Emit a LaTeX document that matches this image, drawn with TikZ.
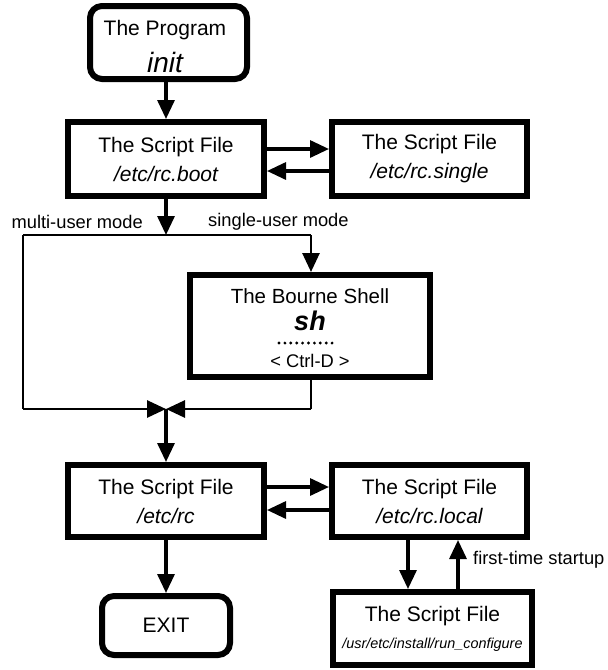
\documentclass[tikz,border=0pt]{standalone}
\usepackage{fontspec}
\setmainfont{Liberation Sans}
\usetikzlibrary{arrows.meta}
\tikzset{
  box/.style={draw, line width=6pt, fill=white, align=center, inner sep=0pt, font=\fontsize{21}{29}\selectfont},
  rbox/.style={box, rounded corners=12pt},
  conn/.style={line width=3.2pt, -{Triangle[length=19pt,width=17pt]}},
  wire/.style={line width=2.8pt},
  lbl/.style={font=\fontsize{18.3}{20}\selectfont, inner sep=0pt},
  intext/.style={inner sep=0pt, anchor=center},
}
\begin{document}
\begin{tikzpicture}[x=1pt,y=-1pt]
\useasboundingbox (0,0) rectangle (608,670);
% boxes
\node[rbox, minimum width=157pt, minimum height=73pt] (init) at (168.5,42.5) {};
\node[intext, font=\fontsize{21}{24}\selectfont] (inittitle) at (165,30) {The Program};
\node[intext, font=\fontsize{28}{30}\selectfont\itshape] (initname) at (165,62) {init};
\node[box, minimum width=196pt, minimum height=74pt] (boot) at (166,159)
  {The Script File\\{\itshape /etc/rc.boot}};
\node[box, minimum width=195pt, minimum height=74pt] (single) at (429.5,159)
  {The Script File\\{\itshape /etc/rc.single}};
\node[box, minimum width=240pt, minimum height=102pt] (sh) at (310,326) {};
\node[intext, font=\fontsize{20.5}{22}\selectfont] (shtitle) at (310,296) {The Bourne Shell};
\node[intext, font=\fontsize{27}{28}\selectfont\bfseries\itshape] (shname) at (310,321) {sh};
\node[intext, font=\fontsize{18.3}{20}\selectfont] (ctrl) at (310,361) {< Ctrl-D >};
\foreach \i in {0,...,9} \fill (279+\i*5.9,343) circle (1.6pt);
\node[box, minimum width=196pt, minimum height=72pt] (rc) at (166,501)
  {The Script File\\{\itshape /etc/rc}};
\node[box, minimum width=195pt, minimum height=72pt] (local) at (429.5,501)
  {The Script File\\{\itshape /etc/rc.local}};
\node[rbox, minimum width=128pt, minimum height=59pt] (exit) at (166,625.5) {EXIT};
\node[box, minimum width=199pt, minimum height=73pt] (conf) at (432.5,628.5)
  {The Script File\\[-2pt]{\fontsize{14.4}{16}\selectfont\itshape /usr/etc/install/run\_configure}};
% junction coordinates
\coordinate (j1) at (166,235);
\coordinate (jl) at (23,235);
\coordinate (jr) at (311,235);
\coordinate (j2) at (166,409);
\coordinate (j2l) at (23,409);
\coordinate (j2r) at (311,409);
% connectors
\draw[conn] (init.south -| 166,0) -- (boot.north);
\draw[conn] ([yshift=10pt]boot.east) -- ([yshift=10pt]single.west);
\draw[conn] ([yshift=-12pt]single.west) -- ([yshift=-12pt]boot.east);
\draw[conn] (boot.south) -- (j1);
\draw[wire] (jl) -- (jr);
\draw[conn,line width=2.8pt] (jr) -- (sh.north -| jr);
\draw[wire] (jl) -- (j2l);
\draw[conn,line width=2.8pt] (j2l) -- (j2);
\draw[wire] (sh.south -| j2r) -- (j2r);
\draw[conn,line width=2.8pt] (j2r) -- (j2);
\draw[conn] (j2) -- (rc.north);
\draw[conn] ([yshift=14pt]rc.east) -- ([yshift=14pt]local.west);
\draw[conn] ([yshift=-9pt]local.west) -- ([yshift=-9pt]rc.east);
\draw[conn] (rc.south) -- (exit.north);
\draw[conn] (local.south -| 408,0) -- (conf.north -| 408,0);
\draw[conn] (conf.north -| 458,0) -- (local.south -| 458,0);
% labels
\node[lbl, anchor=east] (multi) at (143,222) {multi-user mode};
\node[lbl, anchor=west] (singlemode) at (208,222) {single-user mode};
\node[lbl, anchor=west] (first) at (473,560) {first-time startup};
\end{tikzpicture}
\end{document}
